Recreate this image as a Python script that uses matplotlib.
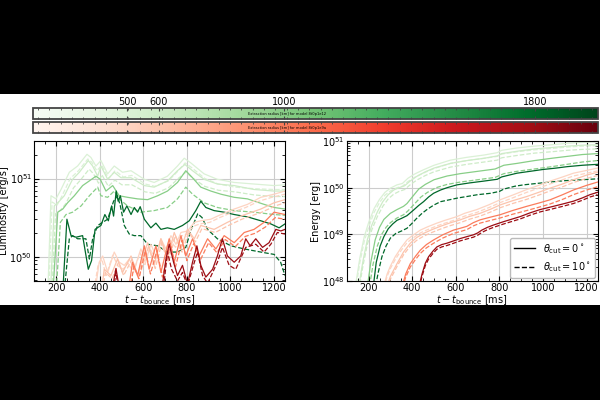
import numpy as np
import matplotlib
matplotlib.use('Agg')
import matplotlib.pyplot as plt
from matplotlib import cm, colors
from matplotlib.patches import Rectangle
from matplotlib.lines import Line2D
from matplotlib.ticker import MultipleLocator, AutoMinorLocator

# extraction radii [km]
radii = [500, 600, 1000, 1800]
cbar_ticks = [500, 600, 1000, 1800]

# ---- luminosity, log10 [erg/s], model 8t0p1e12 (green) ----
lum_g500_t = [162, 177, 200, 223, 261, 299, 342, 360, 383, 406, 437, 467, 505, 544, 605, 650, 711, 757, 788, 818, 879, 940, 1017, 1108, 1200, 1250]
lum_g500 = [49.5, 50.78, 50.74, 50.86, 51.08, 51.16, 51.31, 51.27, 51.16, 51.23, 51.06, 51.16, 51.08, 51.10, 50.99, 50.95, 51.03, 51.16, 51.26, 51.20, 51.06, 50.99, 50.95, 50.93, 50.91, 50.92]
lum_g500d_t = [166, 182, 205, 228, 265, 303, 346, 364, 387, 410, 441, 471, 509, 548, 609, 654, 715, 761, 792, 822, 883, 944, 1021, 1112, 1200, 1250]
lum_g500d = [49.5, 50.70, 50.66, 50.78, 51.00, 51.10, 51.25, 51.21, 51.10, 51.17, 51.00, 51.10, 51.02, 51.04, 50.93, 50.90, 50.97, 51.10, 51.20, 51.14, 51.00, 50.93, 50.89, 50.87, 50.86, 50.86]

lum_g600_t = [174, 192, 215, 238, 276, 307, 348, 368, 391, 406, 437, 467, 498, 544, 605, 650, 711, 757, 791, 826, 879, 940, 1017, 1108, 1200, 1250]
lum_g600 = [49.5, 50.65, 50.71, 50.78, 50.99, 51.08, 51.23, 51.16, 51.03, 51.16, 50.99, 51.08, 51.01, 51.01, 50.91, 50.89, 50.97, 51.10, 51.18, 51.10, 50.99, 50.93, 50.91, 50.86, 50.84, 50.84]
lum_g600d_t = [180, 198, 222, 245, 280, 312, 352, 372, 395, 410, 440, 470, 502, 548, 608, 655, 715, 760, 795, 830, 882, 945, 1020, 1110, 1200, 1250]
lum_g600d = [49.5, 50.55, 50.60, 50.68, 50.88, 50.98, 51.12, 51.06, 50.94, 51.05, 50.90, 50.98, 50.92, 50.92, 50.83, 50.81, 50.88, 51.00, 51.08, 51.00, 50.90, 50.85, 50.83, 50.79, 50.77, 50.77]

lum_g1000_t = [185, 208, 231, 253, 284, 322, 353, 383, 403, 429, 460, 490, 528, 574, 620, 666, 711, 757, 795, 826, 864, 910, 956, 1017, 1078, 1154, 1200, 1250]
lum_g1000 = [49.5, 50.57, 50.61, 50.69, 50.78, 50.91, 50.97, 51.03, 50.99, 50.84, 50.91, 50.78, 50.76, 50.74, 50.73, 50.78, 50.84, 50.95, 51.10, 51.01, 50.89, 50.84, 50.80, 50.76, 50.74, 50.67, 50.63, 50.61]
lum_g1000d_t = [200, 220, 246, 276, 315, 353, 391, 406, 437, 467, 490, 528, 589, 650, 711, 757, 795, 826, 879, 940, 1017, 1108, 1200, 1250]
lum_g1000d = [49.5, 50.44, 50.54, 50.57, 50.65, 50.78, 50.89, 50.78, 50.76, 50.84, 50.74, 50.65, 50.57, 50.59, 50.63, 50.74, 50.89, 50.80, 50.69, 50.63, 50.59, 50.57, 50.54, 50.53]

lum_g1800_t = [230, 250, 269, 292, 322, 348, 363, 379, 406, 424, 440, 455, 464, 476, 485, 495, 510, 525, 544, 559, 574, 586, 605, 635, 658, 681, 711, 742, 780, 811, 841, 864, 887, 925, 971, 1017, 1078, 1139, 1185, 1223, 1250]
lum_g1800 = [49.5, 50.48, 50.27, 50.25, 50.27, 49.84, 49.95, 50.35, 50.40, 50.54, 50.46, 50.65, 50.52, 50.84, 50.71, 50.78, 50.57, 50.65, 50.54, 50.63, 50.57, 50.64, 50.48, 50.37, 50.43, 50.35, 50.37, 50.35, 50.40, 50.46, 50.59, 50.71, 50.63, 50.59, 50.57, 50.54, 50.51, 50.46, 50.42, 50.37, 50.42]
lum_g1800d_t = [236, 261, 276, 299, 337, 353, 368, 391, 414, 437, 464, 482, 495, 513, 536, 559, 589, 620, 666, 711, 757, 795, 820, 850, 870, 895, 940, 1002, 1063, 1139, 1200, 1230, 1250]
lum_g1800d = [49.5, 50.23, 50.27, 50.23, 50.23, 49.97, 50.23, 50.40, 50.44, 50.48, 50.71, 50.78, 50.65, 50.40, 50.29, 50.27, 50.27, 50.16, 50.14, 50.06, 50.06, 50.12, 50.35, 50.55, 50.50, 50.35, 50.23, 50.14, 50.10, 50.06, 50.03, 49.93, 49.76]

# ---- luminosity, log10 [erg/s], model 8t0p1e9a (red) ----
lum_r500_t = [376, 398, 414, 437, 467, 490, 513, 536, 559, 589, 612, 635, 658, 681, 704, 727, 750, 773, 803, 834, 864, 910, 956, 1017, 1078, 1139, 1200, 1250]
lum_r500 = [49.5, 49.93, 50.01, 49.80, 50.06, 49.93, 49.89, 49.97, 49.84, 50.10, 49.95, 50.16, 50.01, 50.23, 50.10, 50.27, 50.16, 50.31, 50.33, 50.44, 50.46, 50.48, 50.54, 50.61, 50.67, 50.76, 50.80, 50.84]
lum_r500d_t = [370, 392, 410, 430, 460, 485, 508, 530, 555, 585, 608, 630, 655, 678, 700, 722, 748, 770, 800, 830, 860, 905, 950, 1010, 1070, 1130, 1190, 1250]
lum_r500d = [49.5, 49.88, 49.97, 49.76, 50.02, 49.88, 49.84, 49.92, 49.80, 50.05, 49.90, 50.11, 49.97, 50.18, 50.05, 50.22, 50.12, 50.26, 50.29, 50.39, 50.42, 50.44, 50.50, 50.57, 50.63, 50.71, 50.76, 50.80]

lum_r600_t = [406, 421, 452, 482, 505, 544, 574, 620, 650, 681, 711, 742, 773, 803, 834, 864, 925, 986, 1047, 1139, 1200, 1250]
lum_r600 = [49.5, 49.84, 49.76, 49.97, 49.80, 50.01, 49.76, 50.18, 49.89, 50.23, 49.97, 50.31, 50.10, 50.35, 50.23, 50.40, 50.35, 50.44, 50.52, 50.61, 50.69, 50.73]
lum_r600d_t = [411, 426, 457, 487, 510, 549, 579, 625, 655, 686, 716, 747, 778, 808, 839, 869, 930, 991, 1052, 1144, 1205, 1250]
lum_r600d = [49.5, 49.80, 49.72, 49.93, 49.76, 49.97, 49.72, 50.14, 49.85, 50.19, 49.93, 50.27, 50.06, 50.31, 50.19, 50.36, 50.31, 50.40, 50.48, 50.57, 50.65, 50.69]

lum_r1000_t = [528, 551, 574, 605, 627, 658, 681, 719, 742, 773, 795, 826, 856, 895, 933, 971, 1017, 1063, 1108, 1154, 1200, 1250]
lum_r1000 = [49.5, 49.93, 49.76, 50.14, 49.84, 50.14, 49.80, 50.23, 49.93, 50.27, 50.01, 50.23, 50.01, 50.23, 50.10, 50.27, 50.18, 50.31, 50.35, 50.44, 50.57, 50.54]
lum_r1000d_t = [535, 557, 580, 610, 633, 663, 688, 724, 748, 778, 800, 832, 862, 900, 938, 976, 1022, 1068, 1113, 1160, 1205, 1250]
lum_r1000d = [49.5, 49.88, 49.72, 50.08, 49.78, 50.08, 49.74, 50.17, 49.87, 50.21, 49.95, 50.17, 49.96, 50.18, 50.05, 50.22, 50.13, 50.26, 50.30, 50.38, 50.50, 50.48]

lum_r1800_t = [452, 475, 490, 500, 681, 704, 719, 739, 757, 780, 803, 826, 846, 864, 887, 918, 940, 963, 986, 1017, 1047, 1070, 1090, 1116, 1147, 1177, 1208, 1231, 1250]
lum_r1800 = [49.5, 49.85, 49.6, 49.4, 49.5, 49.97, 50.16, 49.93, 49.76, 49.89, 49.65, 49.93, 50.14, 49.89, 49.74, 49.84, 50.01, 50.23, 50.01, 49.93, 50.01, 50.23, 50.14, 50.23, 50.12, 50.18, 50.35, 50.33, 50.35]
lum_r1800d_t = [460, 475, 490, 689, 711, 730, 757, 780, 803, 830, 849, 872, 895, 940, 963, 994, 1024, 1070, 1116, 1154, 1185, 1215, 1250]
lum_r1800d = [49.5, 49.80, 49.5, 49.5, 50.06, 49.84, 49.69, 49.80, 49.63, 49.89, 50.06, 49.76, 49.66, 49.93, 50.12, 49.89, 49.84, 50.12, 50.16, 50.06, 50.16, 50.31, 50.29]

# ---- energy, log10 [erg], model 8t0p1e12 (green) ----
en_g500_t = [140, 160, 180, 200, 225, 250, 275, 300, 330, 355, 380, 410, 450, 500, 575, 650, 730, 790, 810, 880, 960, 1040, 1110, 1180, 1250]
en_g500 = [47.9, 48.5, 48.95, 49.25, 49.55, 49.75, 49.90, 49.99, 50.06, 50.09, 50.20, 50.29, 50.38, 50.48, 50.59, 50.65, 50.70, 50.75, 50.80, 50.85, 50.89, 50.92, 50.95, 50.97, 50.98]
en_g500d = [47.8, 48.4, 48.85, 49.15, 49.47, 49.68, 49.84, 49.93, 50.00, 50.03, 50.13, 50.22, 50.31, 50.41, 50.52, 50.58, 50.63, 50.67, 50.72, 50.77, 50.81, 50.84, 50.87, 50.89, 50.90]

en_g600_t = [155, 175, 195, 215, 240, 265, 290, 315, 340, 365, 390, 420, 460, 500, 575, 650, 730, 790, 810, 880, 960, 1040, 1110, 1180, 1250]
en_g600 = [47.9, 48.45, 48.9, 49.2, 49.48, 49.70, 49.85, 49.95, 50.00, 50.04, 50.14, 50.24, 50.34, 50.42, 50.52, 50.58, 50.63, 50.68, 50.73, 50.78, 50.83, 50.86, 50.89, 50.91, 50.92]
en_g600d = [47.8, 48.35, 48.8, 49.1, 49.38, 49.60, 49.76, 49.86, 49.92, 49.96, 50.06, 50.16, 50.26, 50.34, 50.44, 50.50, 50.55, 50.59, 50.64, 50.69, 50.74, 50.77, 50.80, 50.82, 50.83]

en_g1000_t = [195, 210, 230, 250, 270, 300, 330, 360, 376, 400, 430, 460, 500, 560, 620, 700, 780, 800, 820, 880, 960, 1040, 1110, 1180, 1250]
en_g1000 = [47.9, 48.4, 48.88, 49.15, 49.32, 49.45, 49.53, 49.60, 49.66, 49.80, 49.97, 50.07, 50.17, 50.25, 50.30, 50.35, 50.40, 50.44, 50.48, 50.52, 50.58, 50.63, 50.67, 50.71, 50.73]
en_g1000d_t = [205, 220, 240, 260, 280, 300, 330, 360, 380, 410, 440, 470, 510, 560, 620, 700, 780, 800, 820, 880, 960, 1040, 1110, 1180, 1250]
en_g1000d = [47.9, 48.35, 48.75, 49.0, 49.15, 49.25, 49.35, 49.42, 49.50, 49.65, 49.80, 49.90, 50.00, 50.07, 50.12, 50.17, 50.22, 50.26, 50.30, 50.35, 50.40, 50.45, 50.50, 50.55, 50.58]

en_g1800_t = [222, 235, 253, 270, 290, 310, 330, 350, 376, 406, 430, 452, 475, 498, 530, 560, 605, 660, 727, 790, 810, 880, 940, 1000, 1060, 1110, 1180, 1250]
en_g1800 = [47.9, 48.4, 48.75, 48.95, 49.12, 49.22, 49.30, 49.34, 49.40, 49.52, 49.62, 49.70, 49.80, 49.88, 49.95, 50.00, 50.06, 50.10, 50.14, 50.18, 50.23, 50.31, 50.35, 50.39, 50.42, 50.45, 50.48, 50.50]
en_g1800d_t = [232, 245, 261, 280, 300, 325, 350, 376, 400, 420, 445, 470, 500, 530, 570, 610, 650, 700, 760, 800, 820, 870, 910, 970, 1030, 1100, 1180, 1250]
en_g1800d = [47.9, 48.2, 48.52, 48.75, 48.92, 49.02, 49.07, 49.13, 49.24, 49.34, 49.45, 49.54, 49.63, 49.70, 49.74, 49.78, 49.81, 49.85, 49.88, 49.92, 49.97, 50.03, 50.06, 50.09, 50.12, 50.15, 50.17, 50.19]

# ---- energy, log10 [erg], model 8t0p1e9a (red) ----
en_r500_t = [270, 285, 300, 322, 350, 376, 400, 437, 470, 513, 550, 605, 640, 696, 750, 803, 860, 925, 980, 1032, 1090, 1139, 1200, 1250]
en_r500 = [47.9, 48.15, 48.32, 48.52, 48.72, 48.88, 48.97, 49.09, 49.16, 49.24, 49.30, 49.38, 49.45, 49.53, 49.63, 49.74, 49.84, 49.96, 50.05, 50.14, 50.23, 50.31, 50.37, 50.42]
en_r500d = [47.85, 48.1, 48.27, 48.46, 48.66, 48.82, 48.91, 49.03, 49.10, 49.18, 49.24, 49.32, 49.39, 49.47, 49.57, 49.68, 49.78, 49.90, 49.99, 50.08, 50.17, 50.25, 50.31, 50.36]

en_r600_t = [285, 300, 330, 360, 391, 420, 452, 490, 528, 570, 620, 660, 711, 760, 803, 860, 925, 980, 1032, 1090, 1139, 1200, 1250]
en_r600 = [47.9, 48.1, 48.37, 48.62, 48.81, 48.93, 49.02, 49.10, 49.17, 49.24, 49.31, 49.38, 49.45, 49.54, 49.63, 49.72, 49.81, 49.90, 49.99, 50.08, 50.17, 50.27, 50.33]
en_r600d = [47.85, 48.04, 48.31, 48.56, 48.75, 48.87, 48.96, 49.04, 49.11, 49.18, 49.25, 49.32, 49.39, 49.48, 49.57, 49.66, 49.75, 49.84, 49.93, 50.02, 50.11, 50.20, 50.26]

en_r1000_t = [355, 370, 391, 415, 437, 465, 498, 540, 589, 620, 650, 680, 711, 760, 803, 860, 925, 980, 1032, 1090, 1139, 1200, 1250]
en_r1000 = [47.9, 48.15, 48.37, 48.53, 48.66, 48.78, 48.88, 48.99, 49.09, 49.13, 49.17, 49.25, 49.31, 49.37, 49.42, 49.51, 49.60, 49.67, 49.74, 49.85, 49.95, 50.05, 50.12]
en_r1000d = [47.85, 48.08, 48.30, 48.46, 48.59, 48.71, 48.81, 48.92, 49.02, 49.06, 49.10, 49.18, 49.24, 49.30, 49.35, 49.43, 49.51, 49.58, 49.65, 49.75, 49.85, 49.95, 50.02]

en_r1800_t = [432, 445, 460, 475, 495, 513, 535, 559, 590, 620, 650, 681, 700, 719, 745, 773, 818, 860, 895, 940, 986, 1047, 1090, 1139, 1180, 1215, 1250]
en_r1800 = [47.9, 48.15, 48.38, 48.52, 48.64, 48.73, 48.78, 48.81, 48.86, 48.91, 48.95, 48.99, 49.03, 49.09, 49.15, 49.20, 49.27, 49.33, 49.38, 49.46, 49.53, 49.60, 49.65, 49.71, 49.78, 49.85, 49.90]
en_r1800d = [47.85, 48.1, 48.33, 48.47, 48.59, 48.68, 48.73, 48.76, 48.81, 48.86, 48.90, 48.94, 48.98, 49.04, 49.10, 49.15, 49.22, 49.28, 49.33, 49.41, 49.48, 49.55, 49.60, 49.66, 49.73, 49.80, 49.85]

lum_lines = [
    ('Greens', [(lum_g500_t, lum_g500, lum_g500d_t, lum_g500d),
                (lum_g600_t, lum_g600, lum_g600d_t, lum_g600d),
                (lum_g1000_t, lum_g1000, lum_g1000d_t, lum_g1000d),
                (lum_g1800_t, lum_g1800, lum_g1800d_t, lum_g1800d)]),
    ('Reds', [(lum_r500_t, lum_r500, lum_r500d_t, lum_r500d),
              (lum_r600_t, lum_r600, lum_r600d_t, lum_r600d),
              (lum_r1000_t, lum_r1000, lum_r1000d_t, lum_r1000d),
              (lum_r1800_t, lum_r1800, lum_r1800d_t, lum_r1800d)]),
]
en_lines = [
    ('Greens', [(en_g500_t, en_g500, en_g500_t, en_g500d),
                (en_g600_t, en_g600, en_g600_t, en_g600d),
                (en_g1000_t, en_g1000, en_g1000d_t, en_g1000d),
                (en_g1800_t, en_g1800, en_g1800d_t, en_g1800d)]),
    ('Reds', [(en_r500_t, en_r500, en_r500_t, en_r500d),
              (en_r600_t, en_r600, en_r600_t, en_r600d),
              (en_r1000_t, en_r1000, en_r1000_t, en_r1000d),
              (en_r1800_t, en_r1800, en_r1800_t, en_r1800d)]),
]

norm = colors.Normalize(vmin=200, vmax=2000)

fig = plt.figure(figsize=(6, 4), dpi=100, facecolor='black')
# white band with the actual figure
fig.add_artist(Rectangle((0, 0.2375), 1, 0.5275, transform=fig.transFigure,
                         facecolor='white', edgecolor='none', zorder=-1))

ax1 = fig.add_axes([0.057, 0.2975, 0.418, 0.35])
ax2 = fig.add_axes([0.578, 0.2975, 0.418, 0.35])


def draw_lines(ax, groups):
    for cmap_name, lines in groups:
        cmap = plt.get_cmap(cmap_name)
        for r, (t, v, td, vd) in zip(radii, lines):
            c = cmap(norm(r))
            ax.plot(t, 10.0 ** np.array(v), color=c, ls='-', lw=0.9)
            ax.plot(td, 10.0 ** np.array(vd), color=c, ls='--', lw=0.9)


draw_lines(ax1, lum_lines)
draw_lines(ax2, en_lines)

for ax in (ax1, ax2):
    ax.set_yscale('log')
    ax.set_xlim(100, 1250)
    ax.xaxis.set_major_locator(MultipleLocator(200))
    ax.xaxis.set_minor_locator(AutoMinorLocator(4))
    ax.grid(True, which='major', color='#cccccc', lw=0.8)
    ax.set_axisbelow(True)
    ax.tick_params(which='both', direction='in', top=True, right=True, labelsize=7, pad=1.5)
    ax.tick_params(which='major', length=3.5)
    ax.tick_params(which='minor', length=2)
    ax.set_xlabel(r'$t - t_{\mathrm{bounce}}$ [ms]', fontsize=7, labelpad=0)

ax1.set_ylim(10 ** 49.69, 10 ** 51.48)
ax1.set_ylabel('Luminosity [erg/s]', fontsize=7, labelpad=0.5)
ax2.set_ylim(1e48, 1e51)
ax2.set_ylabel('Energy [erg]', fontsize=7, labelpad=0.5)

handles = [Line2D([], [], color='k', lw=1.0, ls='-'),
           Line2D([], [], color='k', lw=1.0, ls='--')]
ax2.legend(handles, [r'$\theta_{\mathrm{cut}} = 0^\circ$', r'$\theta_{\mathrm{cut}} = 10^\circ$'],
           loc='lower right', fontsize=7, handlelength=2.2, borderaxespad=0.3,
           framealpha=1.0, edgecolor='#bbbbbb')

# colorbars for extraction radius
cax1 = fig.add_axes([0.055, 0.7025, 0.942, 0.0275])
cax2 = fig.add_axes([0.055, 0.6675, 0.942, 0.0275])
for cax, cmap_name, model in ((cax1, 'Greens', '8t0p1e12'), (cax2, 'Reds', '8t0p1e9a')):
    cb = fig.colorbar(cm.ScalarMappable(norm=norm, cmap=cmap_name), cax=cax, orientation='horizontal')
    cb.set_ticks(cbar_ticks)
    cax.xaxis.set_minor_locator(MultipleLocator(36))
    cax.tick_params(which='both', direction='in', top=True, bottom=True, labelsize=7,
                    labelbottom=False, labeltop=False, colors='#444444')
    cax.tick_params(which='major', length=2)
    cax.tick_params(which='minor', length=1.2)
    cb.outline.set_linewidth(1.3)
    cb.outline.set_edgecolor('#444444')
    cax.text(0.45, 0.5, 'Extraction radius [km] for model ' + model, transform=cax.transAxes,
             ha='center', va='center', fontsize=2.6)
cax1.tick_params(labeltop=True, labelcolor='black', pad=1)

fig.savefig('out.png', dpi=100, facecolor='black')
